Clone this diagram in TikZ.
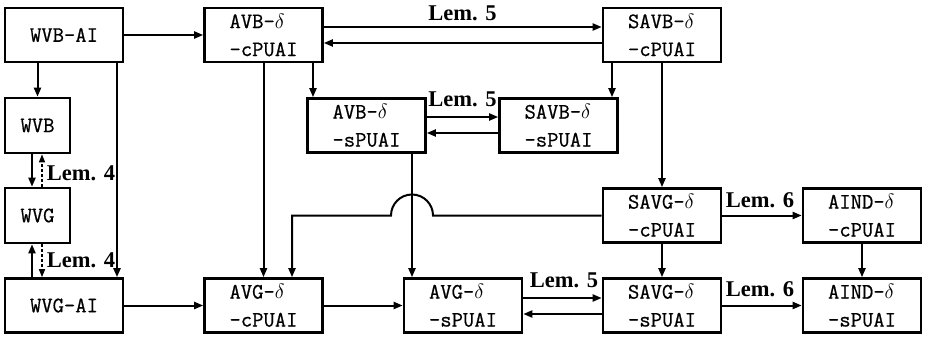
\documentclass[tikz,border=0pt]{standalone}
\usepackage{fontspec}
\newfontfamily\lemfont{Liberation Serif}
\newfontfamily\boxfont{Latin Modern Mono}[FakeBold=0.7]
\usetikzlibrary{arrows.meta}
\begin{document}
\begin{tikzpicture}[x=1pt,y=-1pt,
  box/.style={draw, line width=2.6pt, minimum width=118pt, minimum height=54pt, inner sep=0pt, align=left, font=\boxfont\fontsize{22}{28}\selectfont},
  sbox/.style={box, minimum width=65pt, minimum height=55pt},
  arr/.style={line width=2pt, -{Triangle[length=9pt,width=7pt]}},
  thickarr/.style={arr, line width=2.8pt},
  darr/.style={line width=1.2pt, dash pattern=on 3pt off 2pt, -{Triangle[length=8pt,width=6pt]}},
  lem/.style={font=\lemfont\bfseries\fontsize{22.5}{27}\selectfont, inner sep=0pt, anchor=base}]
\useasboundingbox (0,0) rectangle (925,339);
% boxes
\node[box] (wvbai) at (64,35) {WVB-AI};
\node[box] (avbc) at (263.5,35) {AVB-$\delta$\\-cPUAI};
\node[box] (savbc) at (662,35) {SAVB-$\delta$\\-cPUAI};
\node[sbox] (wvb) at (37.5,125.5) {WVB};
\node[sbox] (wvg) at (37.5,215.5) {WVG};
\node[box] (wvgai) at (64,305.5) {WVG-AI};
\node[box] (avgc) at (263.5,305.5) {AVG-$\delta$\\-cPUAI};
\node[box] (avbs) at (366.5,125.5) {AVB-$\delta$\\-sPUAI};
\node[box] (savbs) at (558.5,125.5) {SAVB-$\delta$\\-sPUAI};
\node[box] (avgs) at (463,305.5) {AVG-$\delta$\\-sPUAI};
\node[box] (savgc) at (662,215.5) {SAVG-$\delta$\\-cPUAI};
\node[box] (savgs) at (662,305.5) {SAVG-$\delta$\\-sPUAI};
\node[box] (aindc) at (862,215.5) {AIND-$\delta$\\-cPUAI};
\node[box] (ainds) at (862,305.5) {AIND-$\delta$\\-sPUAI};
% labels
\node[lem] (l5a) at (462.5,21) {Lem. 5};
\node[lem] (l5b) at (462.5,107) {Lem. 5};
\node[lem] (l5c) at (564,287) {Lem. 5};
\node[lem] (l6a) at (760,207) {Lem. 6};
\node[lem] (l6b) at (760,296) {Lem. 6};
\node[lem] (l4a) at (81,180) {Lem. 4};
\node[lem] (l4b) at (81,267) {Lem. 4};
\coordinate (hop) at (412,215.5);
% connectors
\draw[arr] (wvbai.east) -- (avbc.west);
\draw[arr] ([yshift=8pt]avbc.east) -- ([yshift=8pt]savbc.west);
\draw[arr] ([yshift=-8pt]savbc.west) -- ([yshift=-8pt]avbc.east);
\draw[arr] (wvbai.south -| wvb.north) -- (wvb.north);
\draw[thickarr] ([xshift=53pt]wvbai.south) -- ([xshift=53pt]wvgai.north);
\draw[arr] ([xshift=-5.5pt]wvb.south) -- ([xshift=-5.5pt]wvg.north);
\draw[darr] ([xshift=4.5pt]wvg.north) -- ([xshift=4.5pt]wvb.south);
\draw[arr] ([xshift=-32pt]wvgai.north) -- ([xshift=-5.5pt]wvg.south);
\draw[darr] ([xshift=4.5pt]wvg.south) -- ([xshift=-22pt]wvgai.north);
\draw[arr] (wvgai.east) -- (avgc.west);
\draw[arr] (avbc.south) -- (avgc.north);
\draw[arr] ([xshift=49.5pt]avbc.south) -- ([xshift=-53.5pt]avbs.north);
\draw[arr] ([xshift=-50pt]savbc.south) -- ([xshift=53.5pt]savbs.north);
\draw[arr] ([yshift=8.5pt]avbs.east) -- ([yshift=8.5pt]savbs.west);
\draw[arr] ([yshift=-7.5pt]savbs.west) -- ([yshift=-7.5pt]avbs.east);
\draw[arr] ([xshift=45.5pt]avbs.south) -- ([xshift=-51pt]avgs.north);
\draw[arr] (savbc.south) -- (savgc.north);
\draw[arr] (savgc.west) -- ([xshift=21pt]hop) arc[start angle=0,end angle=180,radius=21pt] -| ([xshift=28.5pt]avgc.north);
\draw[arr] (avgc.east) -- (avgs.west);
\draw[arr] ([yshift=7.5pt]avgs.east) -- ([yshift=7.5pt]savgs.west);
\draw[arr] ([yshift=-8.5pt]savgs.west) -- ([yshift=-8.5pt]avgs.east);
\draw[arr] (savgc.east) -- (aindc.west);
\draw[arr] (savgc.south) -- (savgs.north);
\draw[arr] (aindc.south) -- (ainds.north);
\draw[arr] (savgs.east) -- (ainds.west);
\end{tikzpicture}
\end{document}
